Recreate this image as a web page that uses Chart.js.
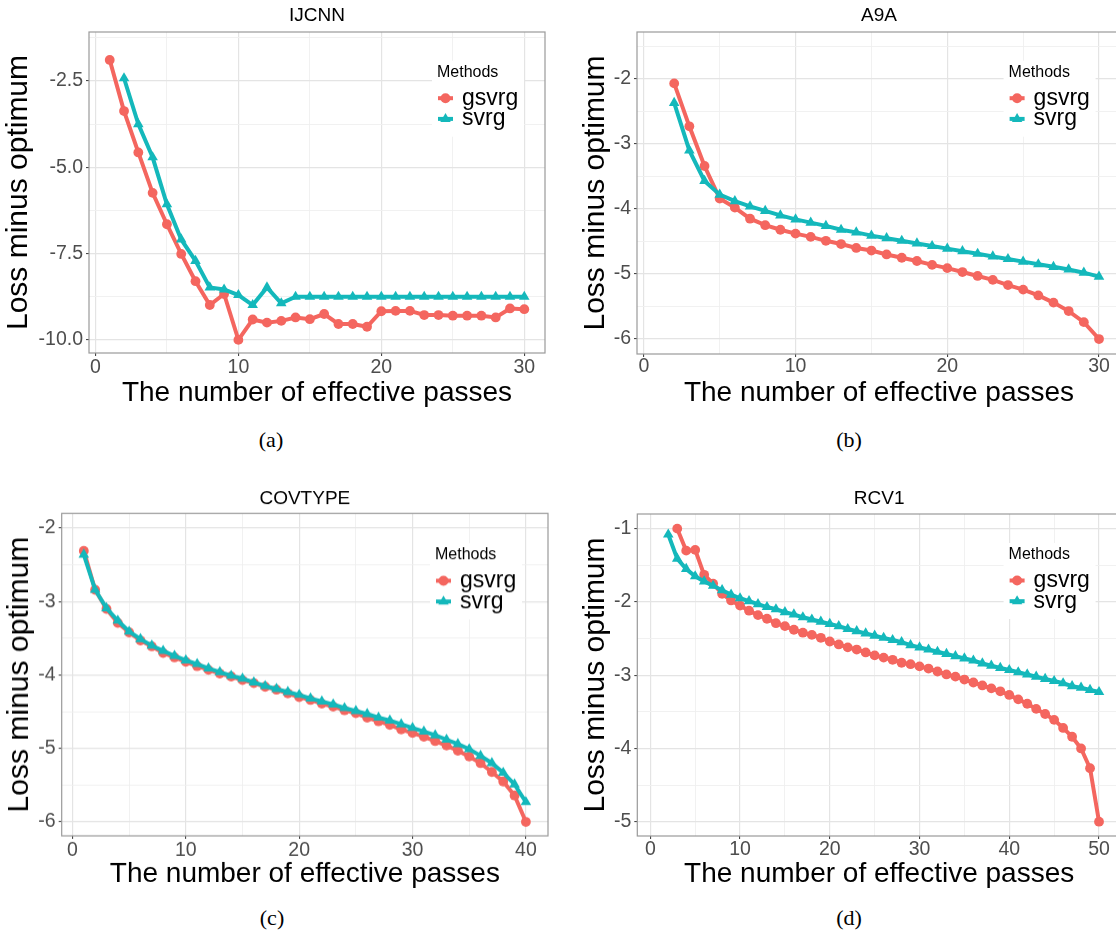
<!DOCTYPE html>
<html>
<head>
<meta charset="utf-8">
<script src="https://cdn.jsdelivr.net/npm/chart.js@4.4.1/dist/chart.umd.min.js"></script>
<style>
html, body { margin: 0; padding: 0; width: 1116px; height: 934px; overflow: hidden; background: #fff; }
canvas { position: absolute; }
.cap { position: absolute; font-family: "Liberation Serif", serif; font-size: 22px; color: #000; transform: translate(-50%, -50%); }
</style>
</head>
<body>
<div class="cap" style="left:271px;top:440px">(a)</div>
<div class="cap" style="left:849px;top:440px">(b)</div>
<div class="cap" style="left:272px;top:918px">(c)</div>
<div class="cap" style="left:849px;top:918px">(d)</div>
<script>
// ---- data ----
const ijcnnPasses = [1,2,3,4,5,6,7,8,9,10,11,12,13,14,15,16,17,18,19,20,21,22,23,24,25,26,27,28,29,30];
const ijcnnGsvrg = [-1.89,-3.37,-4.57,-5.74,-6.65,-7.51,-8.30,-8.99,-8.67,-10.00,
  -9.41,-9.50,-9.45,-9.35,-9.40,-9.25,-9.54,-9.54,-9.62,-9.17,
  -9.16,-9.16,-9.28,-9.28,-9.30,-9.30,-9.30,-9.35,-9.09,-9.11];
const ijcnnSvrg = [null,-2.42,-3.75,-4.71,-6.07,-7.09,-7.71,-8.48,-8.54,-8.70,
  -8.99,-8.48,-8.94,-8.75,-8.75,-8.75,-8.75,-8.75,-8.75,-8.75,
  -8.75,-8.75,-8.75,-8.75,-8.75,-8.75,-8.75,-8.75,-8.75,-8.75];

const a9aPasses = [1,2,3,4,5,6,7,8,9,10,11,12,13,14,15,16,17,18,19,20,21,22,23,24,25,26,27,28,29,30];
const a9aGsvrg = [null,-2.07,-2.73,-3.34,-3.84,-3.98,-4.15,-4.25,-4.32,-4.38,
  -4.43,-4.49,-4.54,-4.60,-4.64,-4.70,-4.75,-4.80,-4.86,-4.91,
  -4.97,-5.03,-5.09,-5.17,-5.24,-5.33,-5.44,-5.57,-5.74,-6.00];
const a9aSvrg = [null,-2.37,-3.10,-3.57,-3.78,-3.88,-3.96,-4.03,-4.10,-4.16,
  -4.21,-4.26,-4.32,-4.36,-4.41,-4.45,-4.49,-4.53,-4.57,-4.61,
  -4.65,-4.69,-4.73,-4.77,-4.81,-4.85,-4.89,-4.93,-4.98,-5.04];

const covtypePasses = [1,2,3,4,5,6,7,8,9,10,11,12,13,14,15,16,17,18,19,20,
  21,22,23,24,25,26,27,28,29,30,31,32,33,34,35,36,37,38,39,40];
const covtypeGsvrg = [-2.31,-2.84,-3.10,-3.29,-3.42,-3.53,-3.61,-3.70,-3.76,-3.82,
  -3.88,-3.93,-3.98,-4.02,-4.07,-4.11,-4.16,-4.20,-4.25,-4.30,
  -4.34,-4.39,-4.43,-4.48,-4.52,-4.58,-4.63,-4.68,-4.74,-4.79,
  -4.84,-4.90,-4.96,-5.03,-5.11,-5.20,-5.32,-5.45,-5.64,-6.00];
const covtypeSvrg = [-2.36,-2.84,-3.09,-3.26,-3.41,-3.51,-3.60,-3.67,-3.74,-3.80,
  -3.85,-3.91,-3.96,-4.01,-4.05,-4.10,-4.15,-4.19,-4.23,-4.27,
  -4.32,-4.36,-4.40,-4.45,-4.49,-4.53,-4.58,-4.62,-4.67,-4.72,
  -4.77,-4.82,-4.88,-4.94,-5.01,-5.10,-5.20,-5.33,-5.49,-5.73];

const rcv1Passes = [1,2,3,4,5,6,7,8,9,10,11,12,13,14,15,16,17,18,19,20,
  21,22,23,24,25,26,27,28,29,30,31,32,33,34,35,36,37,38,39,40,
  41,42,43,44,45,46,47,48,49,50];
const rcv1Gsvrg = [null,null,-1.00,-1.30,-1.29,-1.63,-1.75,-1.89,-1.98,-2.05,
  -2.12,-2.18,-2.23,-2.29,-2.33,-2.38,-2.42,-2.45,-2.49,-2.54,
  -2.58,-2.62,-2.65,-2.69,-2.73,-2.76,-2.79,-2.83,-2.85,-2.88,
  -2.91,-2.95,-2.99,-3.02,-3.06,-3.10,-3.14,-3.18,-3.22,-3.27,
  -3.33,-3.39,-3.46,-3.53,-3.61,-3.72,-3.84,-4.00,-4.27,-5.00];
const rcv1Svrg = [null,-1.08,-1.41,-1.55,-1.65,-1.72,-1.78,-1.84,-1.90,-1.95,
  -1.99,-2.03,-2.07,-2.10,-2.14,-2.17,-2.21,-2.24,-2.27,-2.30,
  -2.33,-2.37,-2.40,-2.43,-2.46,-2.49,-2.52,-2.55,-2.59,-2.62,
  -2.65,-2.68,-2.71,-2.74,-2.77,-2.80,-2.84,-2.87,-2.90,-2.93,
  -2.96,-2.99,-3.02,-3.05,-3.08,-3.11,-3.15,-3.17,-3.20,-3.23];

// tick values
const xTicks30 = [0, 10, 20, 30];
const xMinor30 = [5, 15, 25];
const xTicks40 = [0, 10, 20, 30, 40];
const xMinor40 = [5, 15, 25, 35];
const xTicks50 = [0, 10, 20, 30, 40, 50];
const xMinor50 = [5, 15, 25, 35, 45];
const ijcnnYTicks = [-10, -7.5, -5, -2.5];
const ijcnnYMinor = [-8.75, -6.25, -3.75, -1.25];
const a9aYTicks = [-6, -5, -4, -3, -2];
const a9aYMinor = [-5.5, -4.5, -3.5, -2.5, -1.5];
const covtypeYTicks = [-6, -5, -4, -3, -2];
const covtypeYMinor = [-5.5, -4.5, -3.5, -2.5];
const rcv1YTicks = [-5, -4, -3, -2, -1];
const rcv1YMinor = [-4.5, -3.5, -2.5, -1.5];

const methods = ['gsvrg', 'svrg'];
const colors = ['#F4665F', '#14B8BB'];

// ---- layout of the four panels (page pixels) ----
const panels = [
  { title: 'IJCNN', passes: ijcnnPasses, series: [ijcnnGsvrg, ijcnnSvrg],
    xRange: [-0.45, 31.45], yRange: [-10.38, -1.08], xMajor: xTicks30, xMinor: xMinor30,
    yMajor: ijcnnYTicks, yMinor: ijcnnYMinor, decimals: 1,
    box: { left: 0, top: 0, w: 556 }, area: { l: 89, t: 32, r: 545, b: 353 },
    titleY: 15.5, yTitleX: 19, xTickY: 368, xTitleY: 393, legend: { x: 437, y: 72.7 } },
  { title: 'A9A', passes: a9aPasses, series: [a9aGsvrg, a9aSvrg],
    xRange: [-0.45, 31.45], yRange: [-6.23, -1.28], xMajor: xTicks30, xMinor: xMinor30,
    yMajor: a9aYTicks, yMinor: a9aYMinor, decimals: 0,
    box: { left: 560, top: 0, w: 576 }, area: { l: 637, t: 32, r: 1121, b: 354 },
    titleY: 15.5, yTitleX: 595.5, xTickY: 367, xTitleY: 393, legend: { x: 1008.6, y: 72.7 } },
  { title: 'COVTYPE', passes: covtypePasses, series: [covtypeGsvrg, covtypeSvrg],
    xRange: [-0.95, 41.95], yRange: [-6.19, -1.80], xMajor: xTicks40, xMinor: xMinor40,
    yMajor: covtypeYTicks, yMinor: covtypeYMinor, decimals: 0,
    box: { left: 0, top: 478, w: 556 }, area: { l: 61.7, t: 513.3, r: 548, b: 835.7 },
    titleY: 498.3, yTitleX: 19.5, xTickY: 850, xTitleY: 874, legend: { x: 435, y: 555 } },
  { title: 'RCV1', passes: rcv1Passes, series: [rcv1Gsvrg, rcv1Svrg],
    xRange: [-1.45, 52.45], yRange: [-5.195, -0.80], xMajor: xTicks50, xMinor: xMinor50,
    yMajor: rcv1YTicks, yMinor: rcv1YMinor, decimals: 0,
    box: { left: 560, top: 478, w: 576 }, area: { l: 637.3, t: 514, r: 1121, b: 836 },
    titleY: 498.3, yTitleX: 595.5, xTickY: 849.5, xTitleY: 874, legend: { x: 1008.6, y: 555 } }
];

Chart.defaults.font.family = '"Liberation Sans", Arial, sans-serif';
Chart.defaults.color = '#000';

const MAJOR = '#E4E4E4';
const MINOR = '#EFEFEF';
const isMinor = c => !!(c.tick && c.tick.minor);

function tickList(major, minor) {
  return major.map(v => ({ value: v, minor: false }))
    .concat(minor.map(v => ({ value: v, minor: true })))
    .sort((a, b) => a.value - b.value);
}

const panelBorder = {
  id: 'panelBorder',
  afterDatasetsDraw(chart) {
    const { ctx, chartArea: a } = chart;
    ctx.save();
    ctx.strokeStyle = '#9a9a9a';
    ctx.lineWidth = 1.2;
    ctx.strokeRect(a.left, a.top, a.right - a.left, a.bottom - a.top);
    ctx.restore();
  }
};

// ggplot-like legend inside the panel
const methodsLegend = {
  id: 'methodsLegend',
  afterDraw(chart, args, o) {
    const ctx = chart.ctx;
    ctx.save();
    ctx.fillStyle = '#fff';
    ctx.fillRect(o.x - 5, o.y - 12, 92, 76);
    ctx.textAlign = 'left';
    ctx.textBaseline = 'middle';
    ctx.fillStyle = '#000';
    ctx.font = '16px "Liberation Sans", Arial, sans-serif';
    ctx.fillText('Methods', o.x, o.y);
    chart.data.datasets.forEach((ds, i) => {
      const cy = o.y + 25.5 + i * 20.7;
      const cx = o.x + 8.5;
      ctx.strokeStyle = ds.borderColor;
      ctx.fillStyle = ds.borderColor;
      ctx.lineWidth = 4;
      ctx.beginPath();
      ctx.moveTo(cx - 7.5, cy);
      ctx.lineTo(cx + 7.5, cy);
      ctx.stroke();
      ctx.beginPath();
      if (ds.pointStyle === 'triangle') {
        const r = 6;
        ctx.moveTo(cx, cy - r);
        ctx.lineTo(cx + r * 0.866, cy + r * 0.5);
        ctx.lineTo(cx - r * 0.866, cy + r * 0.5);
        ctx.closePath();
      } else {
        ctx.arc(cx, cy, 5, 0, Math.PI * 2);
      }
      ctx.fill();
      ctx.fillStyle = '#000';
      ctx.font = '23px "Liberation Sans", Arial, sans-serif';
      ctx.fillText(ds.label, o.x + 25, cy);
    });
    ctx.restore();
  }
};

panels.forEach(p => {
  const canvas = document.createElement('canvas');
  const h = p.area.b - p.box.top + 60;
  canvas.width = p.box.w;
  canvas.height = h;
  canvas.style.left = p.box.left + 'px';
  canvas.style.top = p.box.top + 'px';
  canvas.style.width = p.box.w + 'px';
  canvas.style.height = h + 'px';
  document.body.appendChild(canvas);

  const titleFont = 19, titleLH = titleFont * 1.2;
  const titlePadTop = (p.titleY - p.box.top) - titleLH / 2;
  const titlePadBottom = (p.area.t - p.box.top) - titlePadTop - titleLH;
  const yWidth = p.area.l - p.box.left;
  const xHeight = h - (p.area.b - p.box.top);
  const xTitleLH = 28 * 1.2;
  const yTitleLH = 30 * 1.2;

  const datasets = methods.map((m, k) => ({
    label: m,
    data: p.passes.map((x, i) => ({ x: x, y: p.series[k][i] })),
    borderColor: colors[k],
    backgroundColor: colors[k],
    pointBackgroundColor: colors[k],
    pointBorderWidth: 0,
    pointStyle: k === 0 ? 'circle' : 'triangle',
    pointRadius: k === 0 ? 4.9 : 6.1,
    borderWidth: 4,
    tension: 0,
    order: k === 0 ? 2 : 1
  }));

  new Chart(canvas, {
    type: 'line',
    data: { datasets: datasets },
    options: {
      responsive: false,
      animation: false,
      events: [],
      layout: { autoPadding: false, padding: { left: 0, top: 0, bottom: 0, right: p.box.left + p.box.w - p.area.r } },
      plugins: {
        legend: { display: false },
        tooltip: { enabled: false },
        title: {
          display: true, text: p.title, fullSize: false, color: '#000',
          font: { size: titleFont, weight: 'normal' },
          padding: { top: titlePadTop, bottom: titlePadBottom }
        },
        methodsLegend: { x: p.legend.x - p.box.left, y: p.legend.y - p.box.top }
      },
      scales: {
        x: {
          type: 'linear', min: p.xRange[0], max: p.xRange[1],
          afterBuildTicks: s => { s.ticks = tickList(p.xMajor, p.xMinor); },
          afterFit: s => { s.height = xHeight; },
          ticks: {
            autoSkip: false, maxRotation: 0, minRotation: 0, color: '#4D4D4D',
            font: { size: 19.5 }, padding: p.xTickY - p.area.b - 3 - 19.5 * 1.2 / 2,
            callback: (v, i, t) => t[i].minor ? '' : String(v)
          },
          grid: {
            color: c => isMinor(c) ? MINOR : MAJOR,
            lineWidth: c => isMinor(c) ? 0.9 : 1.2,
            tickLength: 3, tickWidth: 1,
            tickColor: c => isMinor(c) ? 'rgba(0,0,0,0)' : '#333'
          },
          border: { display: false },
          title: {
            display: true, text: 'The number of effective passes', color: '#000',
            font: { size: 28 },
            padding: { top: 0, bottom: (p.area.b - p.box.top + xHeight) - (p.xTitleY - p.box.top) - xTitleLH / 2 }
          }
        },
        y: {
          type: 'linear', min: p.yRange[0], max: p.yRange[1],
          afterBuildTicks: s => { s.ticks = tickList(p.yMajor, p.yMinor); },
          afterFit: s => { s.width = yWidth; },
          ticks: {
            autoSkip: false, color: '#4D4D4D', font: { size: 19.5 }, padding: 3,
            callback: (v, i, t) => t[i].minor ? '' : v.toFixed(p.decimals)
          },
          grid: {
            color: c => isMinor(c) ? MINOR : MAJOR,
            lineWidth: c => isMinor(c) ? 0.9 : 1.2,
            tickLength: 3, tickWidth: 1,
            tickColor: c => isMinor(c) ? 'rgba(0,0,0,0)' : '#333'
          },
          border: { display: false },
          title: {
            display: true, text: 'Loss minus optimum', color: '#000',
            font: { size: 30 },
            padding: { top: (p.yTitleX - p.box.left) - yTitleLH / 2, bottom: 0 }
          }
        }
      }
    },
    plugins: [panelBorder, methodsLegend]
  });
});
</script>
</body>
</html>
